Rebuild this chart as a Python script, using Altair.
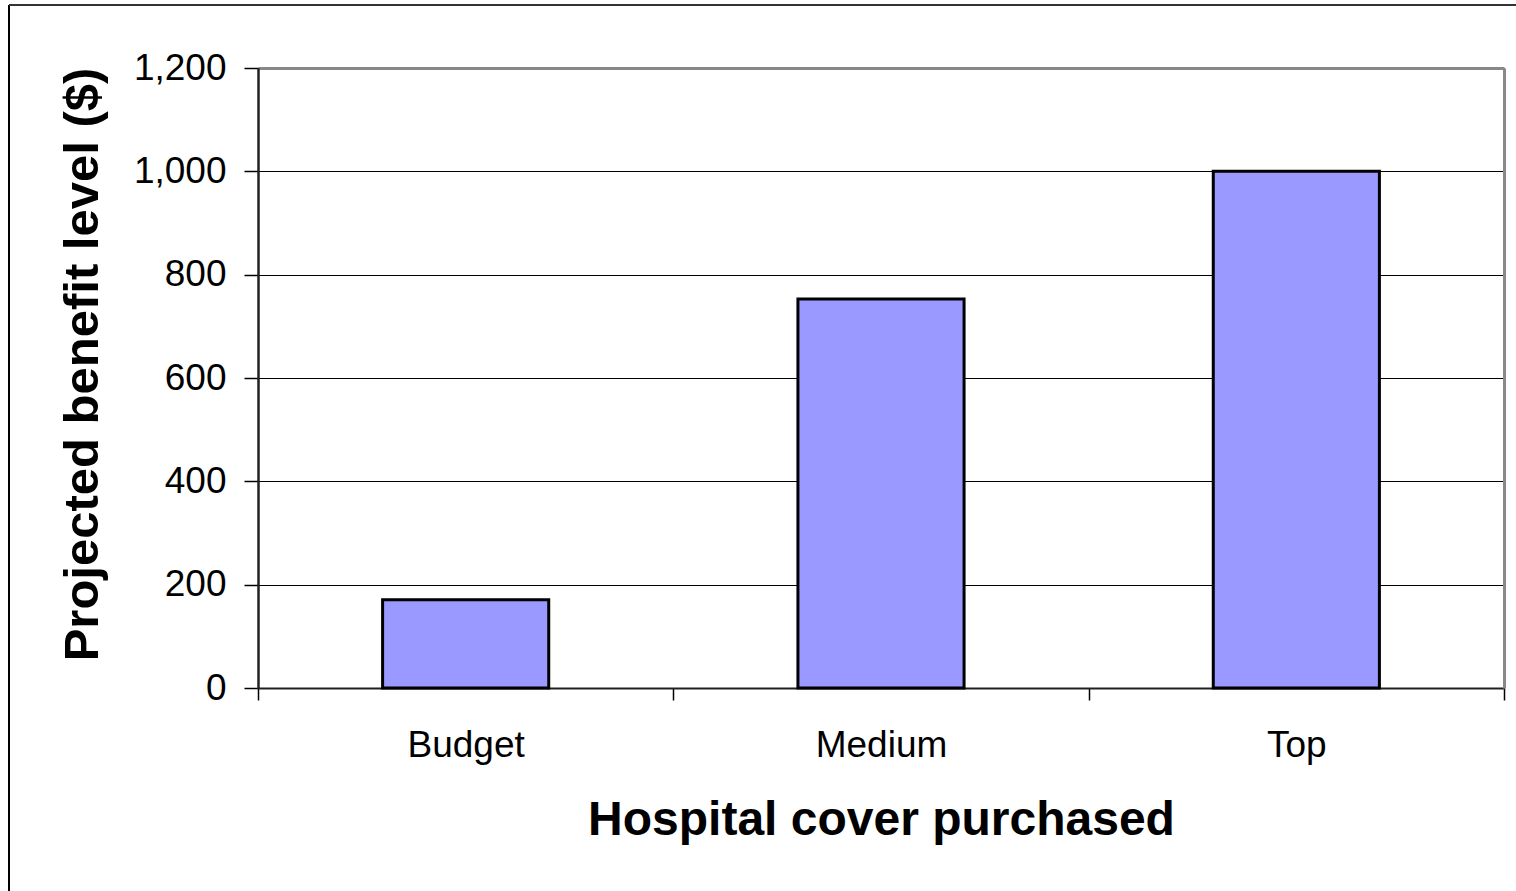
import altair as alt
import pandas as pd

categories = ["Budget", "Medium", "Top"]
values = [171, 753, 1000]
y_ticks = [0, 200, 400, 600, 800, 1000, 1200]

df = pd.DataFrame({"cover": categories, "benefit": values})

FONT = "Liberation Sans"
W, H = 1246, 620
PAD = {"left": 258, "top": 68, "right": 12, "bottom": 203}

x_scale = alt.Scale(paddingInner=0, paddingOuter=0)
y_scale = alt.Scale(domain=[0, 1200], nice=False, zero=True)

bars = alt.Chart(df).mark_bar(
    fill="#9999FF", stroke="#000000", strokeWidth=3, width=alt.RelativeBandSize(0.4)
).encode(
    x=alt.X("cover:N", sort=categories, scale=x_scale, axis=alt.Axis(
        orient="bottom", title="Hospital cover purchased", labelAngle=0,
        tickBand="extent", tickSize=12, tickColor="#000000", tickWidth=1.5,
        labelPadding=27.5, labelFont=FONT, labelFontSize=37, labelColor="#000000",
        domainColor="#202020", domainWidth=2,
        titleFont=FONT, titleFontSize=48, titleFontWeight="bold", titleColor="#000000",
        titlePadding=33, grid=False)),
    y=alt.Y("benefit:Q", scale=y_scale, axis=alt.Axis(
        orient="left", values=y_ticks, format=",d", title="Projected benefit level ($)",
        tickSize=14, tickColor="#000000", tickWidth=1.5,
        labelPadding=18, labelFont=FONT, labelFontSize=37, labelColor="#000000",
        domainColor="#202020", domainWidth=2.5,
        grid=True, gridColor="#000000", gridWidth=1,
        titleFont=FONT, titleFontSize=49, titleFontWeight="bold", titleColor="#000000",
        titlePadding=26, titleY=296)),
)

frame = alt.Chart(df).mark_bar(opacity=0).encode(
    x=alt.X("cover:N", sort=categories, scale=x_scale, axis=alt.Axis(
        orient="top", title=None, labels=False, ticks=False, grid=False,
        domainColor="#888888", domainWidth=3)),
    y=alt.Y("benefit:Q", scale=y_scale, axis=alt.Axis(
        orient="right", title=None, labels=False, ticks=False, grid=False,
        domainColor="#888888", domainWidth=3)),
)

edge = pd.DataFrame({"k": [0]})
left_edge = alt.Chart(edge).mark_rule(color="#000000", strokeWidth=2).encode(
    x=alt.value(-249), y=alt.value(-63), y2=alt.value(H + PAD["bottom"]))
top_edge = alt.Chart(edge).mark_rule(color="#333333", strokeWidth=2).encode(
    x=alt.value(-249), x2=alt.value(W + PAD["right"]), y=alt.value(-63))

chart = alt.layer(bars, frame, left_edge, top_edge).resolve_axis(
    x="independent", y="independent"
).properties(
    width=W, height=H, autosize=alt.AutoSizeParams(type="none"), padding=PAD,
    background="#ffffff"
).configure_view(strokeOpacity=0)

chart.save("out.html", embed_options={"renderer": "svg", "actions": False})
